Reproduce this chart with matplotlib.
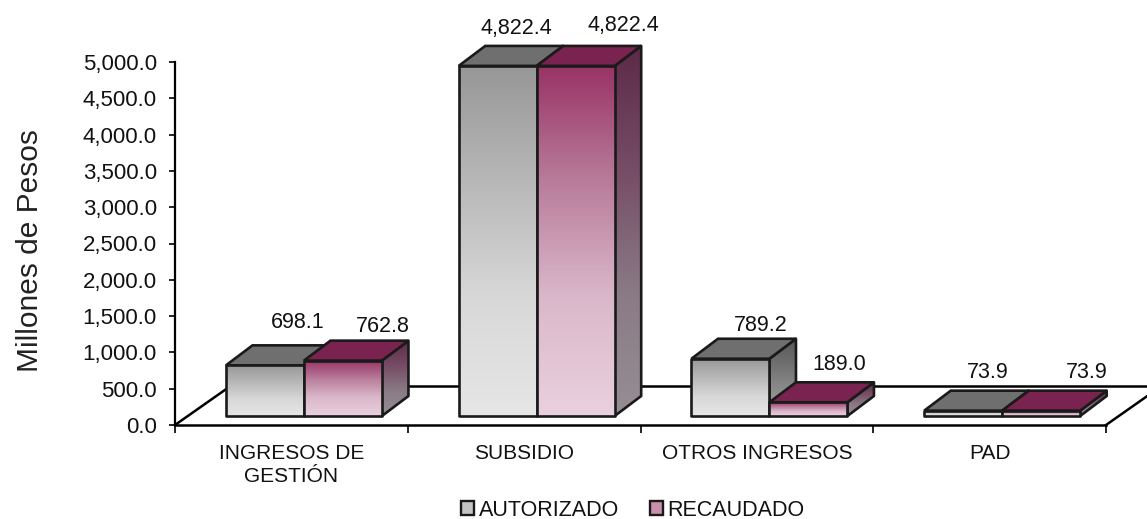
import matplotlib
matplotlib.use('Agg')
import matplotlib.pyplot as plt
import numpy as np
from matplotlib.colors import LinearSegmentedColormap
from matplotlib.patches import Patch, Polygon

plt.rcParams['font.family'] = ['Liberation Sans', 'DejaVu Sans']

categories = ['INGRESOS DE\nGESTIÓN', 'SUBSIDIO', 'OTROS INGRESOS', 'PAD']
autorizado = [698.1, 4822.4, 789.2, 73.9]
recaudado = [762.8, 4822.4, 189.0, 73.9]
y_ticks = [0, 500, 1000, 1500, 2000, 2500, 3000, 3500, 4000, 4500, 5000]

# label shifts in pixels from the front top centre of each bar
auto_shift = [(33, 43), (19, 37), (30, 33), (25, 38)]
reca_shift = [(40, 34), (48, 40), (31, 38), (46, 38)]

# fake 3d, in data units
bar_w = 0.335
depth_x, depth_y = 0.114, 275
front_x, front_y = 0.054, 124
floor_x, floor_y = 0.24, 540

# gradient stops run bottom to top
grey = dict(front=('#e6e6e6', '#d8d8d8', '#b8b8b8', '#979797'),
            side=('#a6a6a6', '#8c8c8c', '#707070', '#585858'), top='#6f6f6f')
wine = dict(front=('#ead0de', '#dab8ca', '#b97d9b', '#993366'),
            side=('#968e94', '#8a7a85', '#764c66', '#5c2a48'), top='#7a2350')

fig = plt.figure(figsize=(11.47, 5.19), dpi=100)
ax = fig.add_axes([175/1147, 1-425/519, (1106-175)/1147, (425-62)/519])
ax.set_xlim(-0.5, 3.5)
ax.set_ylim(0, 5000)


def gradient_poly(pts, colors, z):
    # vertical gradient clipped to a polygon
    pts = np.array(pts)
    cmap = LinearSegmentedColormap.from_list('g', colors)
    extent = [pts[:, 0].min(), pts[:, 0].max(), pts[:, 1].min(), pts[:, 1].max()]
    im = ax.imshow(np.linspace(1, 0, 128).reshape(-1, 1), cmap=cmap, extent=extent,
                   aspect='auto', zorder=z, vmin=0, vmax=1)
    outline = Polygon(pts, closed=True, fc='none', ec='#1a1a1a', lw=1.9, zorder=z,
                      joinstyle='round', clip_on=False)
    ax.add_patch(outline)
    im.set_clip_box(fig.bbox)
    im.set_clip_path(outline)


def bar3d(x0, v, style, z):
    x1 = x0 + bar_w
    y0 = front_y
    y1 = front_y + v
    gradient_poly([(x1, y0), (x1 + depth_x, y0 + depth_y), (x1 + depth_x, y1 + depth_y), (x1, y1)],
                  style['side'], z)
    ax.add_patch(Polygon([(x0, y1), (x1, y1), (x1 + depth_x, y1 + depth_y), (x0 + depth_x, y1 + depth_y)],
                         closed=True, fc=style['top'], ec='#1a1a1a', lw=1.9, zorder=z,
                         clip_on=False))
    gradient_poly([(x0, y0), (x1, y0), (x1, y1), (x0, y1)], style['front'], z)


# floor
ax.plot([-0.5, -0.5 + floor_x], [0, floor_y], color='black', lw=1.8, zorder=1, clip_on=False)
ax.plot([3.5, 3.5 + floor_x], [0, floor_y], color='black', lw=1.8, zorder=1, clip_on=False)
ax.plot([-0.5 + floor_x, 3.5 + floor_x], [floor_y, floor_y], color='black', lw=1.8, zorder=1,
        clip_on=False)

for i in range(len(categories)):
    left = i + front_x - bar_w
    bar3d(left, autorizado[i], grey, 2 + i * 2)
    bar3d(left + bar_w, recaudado[i], wine, 3 + i * 2)
    ax.annotate(f'{autorizado[i]:,.1f}', (left + bar_w / 2, front_y + autorizado[i]),
                xytext=auto_shift[i], textcoords='offset pixels', ha='center', va='center',
                fontsize=15.5, color='#111111', zorder=20, annotation_clip=False)
    ax.annotate(f'{recaudado[i]:,.1f}', (left + 1.5 * bar_w, front_y + recaudado[i]),
                xytext=reca_shift[i], textcoords='offset pixels', ha='center', va='center',
                fontsize=15.5, color='#111111', zorder=20, annotation_clip=False)

ax.set_xlim(-0.5, 3.5)
ax.set_ylim(0, 5000)
ax.patch.set_visible(False)
for s in ['top', 'right']:
    ax.spines[s].set_visible(False)
ax.spines['left'].set_linewidth(1.6)
ax.spines['bottom'].set_linewidth(1.8)

ax.set_yticks(y_ticks)
ax.set_yticklabels([f'{t:,.1f}' for t in y_ticks], fontsize=16, color='#111111')
ax.tick_params(axis='y', length=4.5, width=1.2, pad=8.5)
ax.set_xticks(np.arange(-0.5, 4))
ax.set_xticklabels([])
ax.tick_params(axis='x', length=6, width=1.2)
ax.set_xticks(np.arange(len(categories)), minor=True)
ax.set_xticklabels(categories, minor=True, fontsize=15, color='#111111', linespacing=1.25)
ax.tick_params(axis='x', which='minor', length=0, pad=14)
ax.set_ylabel('Millones de Pesos', fontsize=21.5, color='#222222', labelpad=28, y=0.48)

handles = [Patch(fc='#c4c4c4', ec='#1a1a1a', lw=1.7), Patch(fc='#c98fad', ec='#1a1a1a', lw=1.7)]
fig.legend(handles, ['AUTORIZADO', 'RECAUDADO'], loc='center', bbox_to_anchor=(633/1147, 1-510/519),
           ncol=2, frameon=False, fontsize=15.5, handlelength=0.6, handleheight=0.6,
           handletextpad=0.2, columnspacing=1.45, labelcolor='#111111')

fig.savefig('out.png', dpi=100)
